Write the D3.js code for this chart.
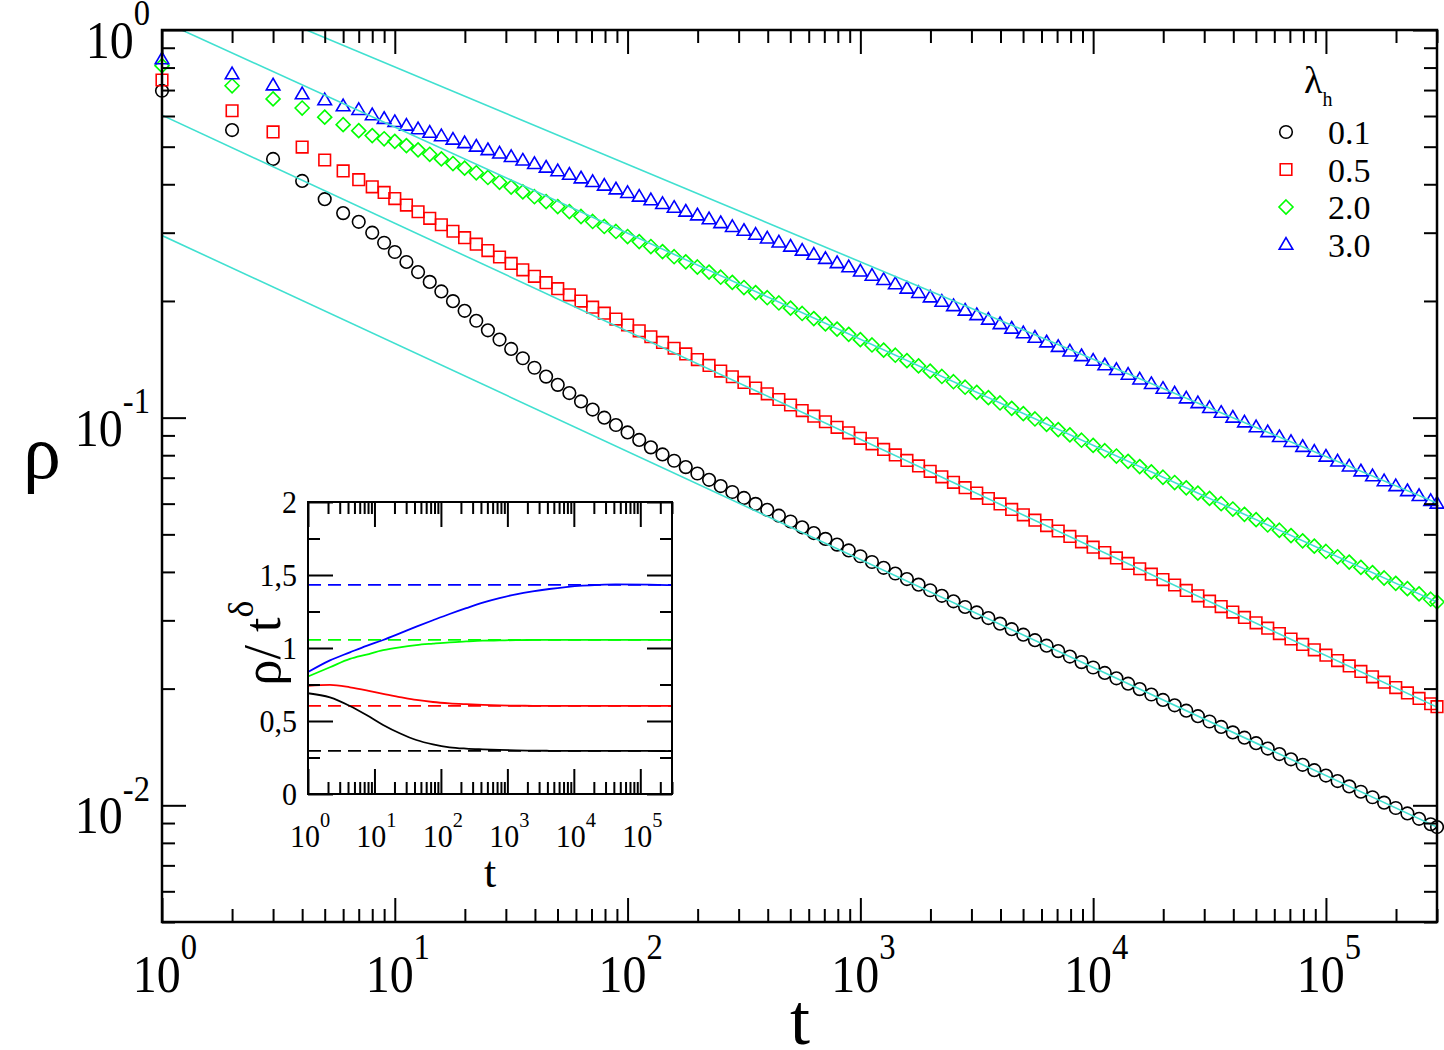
<!DOCTYPE html>
<html>
<head>
<meta charset="utf-8">
<script src="https://cdn.jsdelivr.net/npm/d3@7"></script>
<style>
body { margin: 0; background: #fff; }
svg { display: block; }
text { font-family: "Liberation Serif", "DejaVu Serif", "Times New Roman", Times, serif; fill: #000; }
</style>
</head>
<body>
<div id="chart"></div>
<script>
// ---- data ----
const lambdaLabels = ["0.1", "0.5", "2.0", "3.0"]
const seriesColors = ["#000000", "#ff0000", "#00ff00", "#0000ff"]
const seriesShapes = ["circle", "square", "diamond", "triangle"]

// time samples of the main panel
const tValues = [1, 2, 3, 4, 5, 6, 7, 8, 9,
  10, 11.22, 12.59, 14.13, 15.85, 17.78, 19.95, 22.39, 25.12, 28.18, 31.62, 35.48, 39.81, 44.67, 50.12, 56.23, 63.1, 70.79, 79.43, 89.13,
  100, 112.2, 125.9, 141.3, 158.5, 177.8, 199.5, 223.9, 251.2, 281.8, 316.2, 354.8, 398.1, 446.7, 501.2, 562.3, 631, 707.9, 794.3, 891.3,
  1000, 1122, 1259, 1413, 1585, 1778, 1995, 2239, 2512, 2818, 3162, 3548, 3981, 4467, 5012, 5623, 6310, 7079, 7943, 8913,
  10000, 11220, 12590, 14130, 15850, 17780, 19950, 22390, 25120, 28180, 31620, 35480, 39810, 44670, 50120, 56230, 63100, 70790, 79430, 89130,
  100000, 112200, 125900, 141300, 158500, 177800, 199500, 223900, 251200, 281800, 300000]

// rho(t) for lambda_h = 0.1
const rho01 = [0.697, 0.552, 0.465, 0.408, 0.366, 0.337, 0.320, 0.300, 0.2826,
  0.2675, 0.2521, 0.2374, 0.2240, 0.2116, 0.1998, 0.1886, 0.1778, 0.1680, 0.1590, 0.1504, 0.1423, 0.1345, 0.1276, 0.1215, 0.1157, 0.1101, 0.1049, 0.1000, 0.09572,
  0.09158, 0.08762, 0.08382, 0.08038, 0.07742, 0.07454, 0.07177, 0.06912, 0.06662, 0.06430, 0.06208, 0.05992, 0.05783, 0.05585, 0.05397, 0.05213, 0.05038, 0.04867, 0.04704, 0.04544,
  0.04390, 0.04243, 0.04098, 0.03962, 0.03834, 0.03709, 0.03587, 0.03471, 0.03359, 0.03248, 0.03144, 0.03041, 0.02942, 0.02847, 0.02755, 0.02666, 0.02581, 0.02499, 0.02419, 0.02341,
  0.02267, 0.02195, 0.02126, 0.02059, 0.01994, 0.01931, 0.01870, 0.01811, 0.01754, 0.01698, 0.01645, 0.01593, 0.01542, 0.01494, 0.01446, 0.01401, 0.01356, 0.01314, 0.01272, 0.01232,
  0.01193, 0.01155, 0.01119, 0.01084, 0.01049, 0.01016, 0.009841, 0.009530, 0.009229, 0.008937, 0.008788]

// rho(t) for lambda_h = 0.5
const rho05 = [0.743, 0.619, 0.546, 0.499, 0.462, 0.433, 0.411, 0.394, 0.381,
  0.3675, 0.3534, 0.3397, 0.3268, 0.3145, 0.3026, 0.2913, 0.2803, 0.2698, 0.2597, 0.2500, 0.2406, 0.2315, 0.2230, 0.2151, 0.2074, 0.1999, 0.1927, 0.1860, 0.1796,
  0.1734, 0.1675, 0.1617, 0.1563, 0.1510, 0.1460, 0.1412, 0.1364, 0.1319, 0.1275, 0.1233, 0.1192, 0.1152, 0.1114, 0.1078, 0.1043, 0.1009, 0.09761, 0.09444, 0.09138,
  0.08846, 0.08560, 0.08281, 0.08015, 0.07758, 0.07508, 0.07270, 0.07038, 0.06812, 0.06598, 0.06390, 0.06186, 0.05989, 0.05799, 0.05616, 0.05438, 0.05267, 0.05100, 0.04939, 0.04783,
  0.04634, 0.04488, 0.04346, 0.04208, 0.04076, 0.03947, 0.03822, 0.03701, 0.03584, 0.03471, 0.03362, 0.03256, 0.03152, 0.03053, 0.02957, 0.02863, 0.02773, 0.02685, 0.02600, 0.02518,
  0.02440, 0.02363, 0.02288, 0.02215, 0.02145, 0.02078, 0.02012, 0.01949, 0.01887, 0.01828, 0.01796]

// rho(t) for lambda_h = 2.0
const rho20 = [0.809, 0.718, 0.664, 0.629, 0.596, 0.570, 0.550, 0.534, 0.524,
  0.5162, 0.5033, 0.4907, 0.4780, 0.4651, 0.4524, 0.4402, 0.4282, 0.4165, 0.4047, 0.3933, 0.3822, 0.3715, 0.3609, 0.3504, 0.3402, 0.3303, 0.3207, 0.3113, 0.3022,
  0.2932, 0.2846, 0.2763, 0.2682, 0.2601, 0.2523, 0.2447, 0.2374, 0.2303, 0.2233, 0.2166, 0.2102, 0.2039, 0.1976, 0.1916, 0.1857, 0.1801, 0.1745, 0.1692, 0.1640,
  0.1589, 0.1540, 0.1493, 0.1449, 0.1403, 0.1360, 0.1318, 0.1277, 0.1238, 0.1198, 0.1162, 0.1126, 0.1091, 0.1057, 0.1024, 0.09922, 0.09614, 0.09316, 0.09027, 0.08747,
  0.08480, 0.08217, 0.07962, 0.07715, 0.07476, 0.07244, 0.07019, 0.06802, 0.06591, 0.06386, 0.06189, 0.05997, 0.05811, 0.05631, 0.05455, 0.05287, 0.05123, 0.04964, 0.04810, 0.04661,
  0.04516, 0.04376, 0.04240, 0.04109, 0.03982, 0.03858, 0.03738, 0.03622, 0.03510, 0.03401, 0.03346]

// rho(t) for lambda_h = 3.0
const rho30 = [0.842, 0.770, 0.721, 0.684, 0.660, 0.637, 0.623, 0.604, 0.591,
  0.5798, 0.5676, 0.5557, 0.5441, 0.5331, 0.5223, 0.5116, 0.5011, 0.4909, 0.4809, 0.4711, 0.4613, 0.4519, 0.4424, 0.4331, 0.4239, 0.4150, 0.4061, 0.3974, 0.3888,
  0.3806, 0.3723, 0.3643, 0.3564, 0.3484, 0.3406, 0.3331, 0.3255, 0.3182, 0.3110, 0.3039, 0.2970, 0.2903, 0.2835, 0.2767, 0.2701, 0.2636, 0.2572, 0.2509, 0.2448,
  0.2387, 0.2328, 0.2270, 0.2213, 0.2156, 0.2101, 0.2047, 0.1994, 0.1943, 0.1892, 0.1842, 0.1793, 0.1746, 0.1700, 0.1654, 0.1610, 0.1567, 0.1525, 0.1484, 0.1444,
  0.1405, 0.1367, 0.1330, 0.1293, 0.1257, 0.1223, 0.1189, 0.1156, 0.1123, 0.1092, 0.1061, 0.1031, 0.1002, 0.09740, 0.09462, 0.09191, 0.08927, 0.08671, 0.08423, 0.08181,
  0.07948, 0.07720, 0.07498, 0.07282, 0.07071, 0.06868, 0.06669, 0.06476, 0.06289, 0.06107, 0.06012]

// power-law fits rho = A t^-delta (cyan lines, dashed levels in the inset)
const fitAmp = [0.295, 0.603, 1.055, 1.432]
const fitDelta = [0.2786, 0.2788, 0.2737, 0.2513]

// inset: rho * t^delta
const insetT = [1, 2.14, 4.27, 7.59, 13.5, 24, 42.7, 75.9, 135, 240, 427, 759, 1349, 2399, 4266, 7586, 13490, 23990, 42660, 134900, 300000]
const ratio01 = [0.69, 0.662, 0.603, 0.541, 0.473, 0.416, 0.37, 0.34, 0.32, 0.311, 0.306, 0.302, 0.299, 0.297, 0.296, 0.2955, 0.295, 0.295, 0.295, 0.295, 0.294]
const ratio05 = [0.74, 0.747, 0.731, 0.71, 0.685, 0.664, 0.644, 0.63, 0.621, 0.615, 0.61, 0.607, 0.605, 0.604, 0.603, 0.603, 0.603, 0.603, 0.603, 0.603, 0.603]
const ratio20 = [0.805, 0.868, 0.925, 0.955, 0.985, 1.005, 1.02, 1.03, 1.039, 1.045, 1.05, 1.052, 1.054, 1.055, 1.055, 1.055, 1.055, 1.055, 1.056, 1.056, 1.056]
const ratio30 = [0.835, 0.915, 0.97, 1.015, 1.055, 1.10, 1.146, 1.19, 1.233, 1.273, 1.311, 1.342, 1.368, 1.388, 1.404, 1.417, 1.427, 1.433, 1.436, 1.434, 1.43]

const mainRho = [rho01, rho05, rho20, rho30]
const insetRatio = [ratio01, ratio05, ratio20, ratio30]

// ---- layout ----
const width = 1444, height = 1050
const turquoise = "#40e0d0"
const main = {left: 162, right: 1437, top: 30, bottom: 922}
const inset = {left: 308, right: 672, top: 502, bottom: 794}

const svg = d3.select("#chart").append("svg")
    .attr("width", width)
    .attr("height", height)
    .attr("font-family", "'Liberation Serif', 'DejaVu Serif', serif")

const x = d3.scaleLog().domain([1, 3e5]).range([main.left, main.right])
const y = d3.scaleLog().domain([0.005, 1]).range([main.bottom, main.top])
const xi = d3.scaleLog().domain([1, 3e5]).range([inset.left, inset.right])
const yi = d3.scaleLinear().domain([0, 2]).range([inset.bottom, inset.top])

// log ticks
function logMinor(lo, hi){
    var out = []
    for (var d = Math.pow(10, Math.floor(Math.log10(lo))); d < hi; d *= 10)
        for (var m = 2; m <= 9; m++)
            if (d * m >= lo * 0.999 && d * m <= hi * 1.001) out.push(d * m)
    return out
}
const xMajor = [1, 10, 100, 1e3, 1e4, 1e5]
const xMinor = logMinor(1, 3e5)
const yMajor = [0.01, 0.1, 1]
const yMinor = logMinor(0.005, 1)

function tickAxis(g, axis, values, len){
    g.call(axis.tickValues(values).tickSize(-len).tickFormat(""))
    g.select(".domain").remove()
    g.selectAll(".tick line").attr("stroke", "#000").attr("stroke-width", 2)
}

function frameTicks(xs, ys, box, xmaj, xmin, ymaj, ymin, big, small){
    var g = svg.append("g")
    var sets = [[xmaj, big], [xmin, small]]
    sets.forEach(function(s){
        tickAxis(g.append("g").attr("transform", "translate(0," + box.bottom + ")"), d3.axisBottom(xs), s[0], s[1])
        tickAxis(g.append("g").attr("transform", "translate(0," + box.top + ")"), d3.axisTop(xs), s[0], s[1])
    })
    var ysets = [[ymaj, big], [ymin, small]]
    ysets.forEach(function(s){
        tickAxis(g.append("g").attr("transform", "translate(" + box.left + ",0)"), d3.axisLeft(ys), s[0], s[1])
        tickAxis(g.append("g").attr("transform", "translate(" + box.right + ",0)"), d3.axisRight(ys), s[0], s[1])
    })
}

// power of ten label: "10" with superscript
function powLabel(px, py, exp, size, anchor, stretch){
    var t = svg.append("g")
        .attr("transform", "translate(" + px + "," + py + ") scale(1," + stretch + ")")
        .append("text")
        .attr("text-anchor", anchor)
        .attr("font-size", size)
    t.append("tspan").text("10")
    t.append("tspan").attr("font-size", size * 0.68).attr("dy", -size * 0.62).text(exp)
}

// marker shapes
function markerPath(shape){
    var p = d3.path()
    if (shape === "circle"){ p.arc(0, 0, 6.3, 0, 2 * Math.PI); p.closePath() }
    if (shape === "square"){ p.rect(-5.8, -5.8, 11.6, 11.6) }
    if (shape === "diamond"){ p.moveTo(0, -7); p.lineTo(7, 0); p.lineTo(0, 7); p.lineTo(-7, 0); p.closePath() }
    if (shape === "triangle"){ p.moveTo(0, -6.8); p.lineTo(6.8, 4.8); p.lineTo(-6.8, 4.8); p.closePath() }
    return p.toString()
}

// ---- main panel ----
svg.append("clipPath").attr("id", "mainClip")
    .append("rect")
    .attr("x", main.left).attr("y", main.top)
    .attr("width", main.right - main.left).attr("height", main.bottom - main.top)

mainRho.forEach(function(rho, i){
    svg.append("g")
        .selectAll("path")
        .data(tValues.map(function(t, j){ return [t, rho[j]] }))
        .join("path")
        .attr("d", markerPath(seriesShapes[i]))
        .attr("transform", function(d){ return "translate(" + x(d[0]) + "," + y(d[1]) + ")" })
        .attr("fill", "none")
        .attr("stroke", seriesColors[i])
        .attr("stroke-width", 1.6)
})

// fitted power laws
const fitLine = d3.line().x(function(d){ return x(d[0]) }).y(function(d){ return y(d[1]) })
fitAmp.forEach(function(a, i){
    var ends = x.domain().map(function(t){ return [t, a * Math.pow(t, -fitDelta[i])] })
    svg.append("path")
        .attr("clip-path", "url(#mainClip)")
        .attr("d", fitLine(ends))
        .attr("fill", "none")
        .attr("stroke", turquoise)
        .attr("stroke-width", 1.6)
})

frameTicks(x, y, main, xMajor, xMinor, yMajor, yMinor, 24, 13)
svg.append("rect")
    .attr("x", main.left).attr("y", main.top)
    .attr("width", main.right - main.left).attr("height", main.bottom - main.top)
    .attr("fill", "none").attr("stroke", "#000").attr("stroke-width", 2.5)

xMajor.forEach(function(t, i){ powLabel(x(t) + 3, 992, String(i), 48, "middle", 1.1) })
yMajor.forEach(function(v){
    powLabel(150, y(v) + 28, String(Math.round(Math.log10(v))), 48, "end", 1.1)
})

svg.append("text").attr("x", 800).attr("y", 1044).attr("text-anchor", "middle")
    .attr("font-size", 72).text("t")
svg.append("text").attr("x", 42).attr("y", 478).attr("text-anchor", "middle")
    .attr("font-size", 76).text("ρ")

// legend
const legend = svg.append("g")
const lt = legend.append("text").attr("x", 1304).attr("y", 93).attr("font-size", 38)
lt.append("tspan").text("λ")
lt.append("tspan").attr("font-size", 20).attr("dy", 13).text("h")
lambdaLabels.forEach(function(lab, i){
    legend.append("path")
        .attr("d", markerPath(seriesShapes[i]))
        .attr("transform", "translate(1286," + (132 + 37.5 * i) + ")")
        .attr("fill", "none").attr("stroke", seriesColors[i]).attr("stroke-width", 1.6)
    legend.append("text").attr("x", 1328).attr("y", 144 + 37.5 * i)
        .attr("font-size", 34).text(lab)
})

// ---- inset ----
svg.append("rect")
    .attr("x", inset.left).attr("y", inset.top)
    .attr("width", inset.right - inset.left).attr("height", inset.bottom - inset.top)
    .attr("fill", "#fff")

fitAmp.forEach(function(a, i){
    svg.append("line")
        .attr("x1", inset.left).attr("x2", inset.right)
        .attr("y1", yi(a)).attr("y2", yi(a))
        .attr("stroke", seriesColors[i]).attr("stroke-width", 1.8)
        .attr("stroke-dasharray", "13,7")
})

const insetLine = d3.line()
    .x(function(d){ return xi(d[0]) })
    .y(function(d){ return yi(d[1]) })
    .curve(d3.curveMonotoneX)
insetRatio.forEach(function(r, i){
    svg.append("path")
        .attr("d", insetLine(insetT.map(function(t, j){ return [t, r[j]] })))
        .attr("fill", "none")
        .attr("stroke", seriesColors[i])
        .attr("stroke-width", 1.8)
})

frameTicks(xi, yi, inset, xMajor, xMinor, [0, 0.5, 1, 1.5, 2], [0.25, 0.75, 1.25, 1.75], 25, 12)
svg.append("rect")
    .attr("x", inset.left).attr("y", inset.top)
    .attr("width", inset.right - inset.left).attr("height", inset.bottom - inset.top)
    .attr("fill", "none").attr("stroke", "#000").attr("stroke-width", 2)

xMajor.forEach(function(t, i){ powLabel(xi(t) + 2, 847, String(i), 30, "middle", 1.05) })
const insetYLabels = ["0", "0,5", "1", "1,5", "2"]
insetYLabels.forEach(function(lab, i){
    svg.append("text")
        .attr("transform", "translate(297," + (yi(i * 0.5) + 11) + ") scale(1,1.05)")
        .attr("text-anchor", "end").attr("font-size", 30).text(lab)
})
svg.append("text").attr("x", 490).attr("y", 887).attr("text-anchor", "middle")
    .attr("font-size", 44).text("t")
const yt = svg.append("text")
    .attr("transform", "translate(280,643) rotate(-90)")
    .attr("text-anchor", "middle").attr("font-size", 52)
yt.append("tspan").text("ρ/ t")
yt.append("tspan").attr("font-size", 36).attr("dy", -27).text("δ")
</script>
</body>
</html>
